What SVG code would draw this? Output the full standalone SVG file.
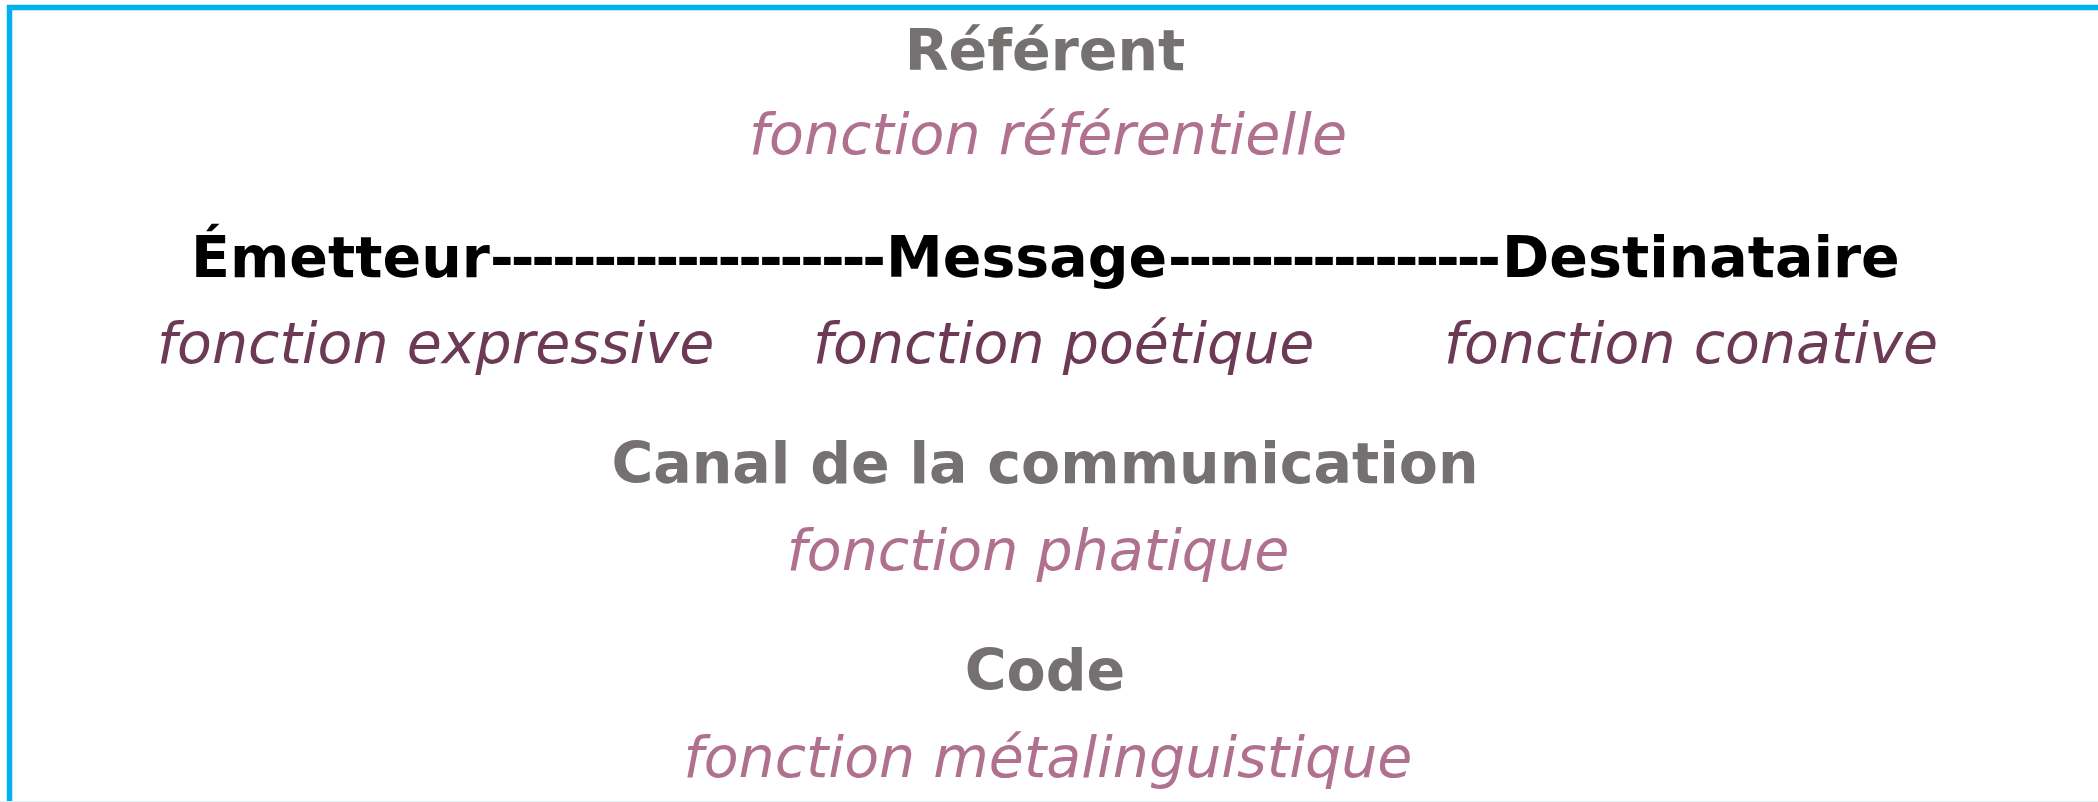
<svg xmlns="http://www.w3.org/2000/svg" width="2098" height="802" viewBox="0 0 2098 802">
<style>
.t{font-family:"DejaVu Sans",sans-serif;font-weight:bold;font-size:57px}
.i{font-family:"DejaVu Sans",sans-serif;font-style:italic;font-size:57px}
.grey{fill:#767171}
.blk{fill:#000000}
.pink{fill:#B0718F}
.dark{fill:#6D3A56}
</style>
<rect width="2098" height="802" fill="#ffffff"/>
<rect x="9.5" y="7.5" width="2200" height="800" fill="none" stroke="#00B0F0" stroke-width="5.5"/>
<line x1="0" y1="801.5" x2="2098" y2="801.5" stroke="#E2F4FB" stroke-width="1"/>
<g id="referent">
<text class="t grey" x="1045" y="70" text-anchor="middle">Référent</text>
<text class="i pink" x="1048" y="154" text-anchor="middle">fonction référentielle</text>
</g>
<g id="emetteur">
<text class="t blk" x="191" y="277">Émetteur</text>
<text class="i dark" x="157" y="363">fonction expressive</text>
</g>
<g id="message">
<text class="t blk" x="886" y="277">Message</text>
<text class="i dark" x="813" y="363">fonction poétique</text>
</g>
<g id="destinataire">
<text class="t blk" x="1502" y="277">Destinataire</text>
<text class="i dark" x="1444" y="363">fonction conative</text>
</g>
<g id="canal">
<text class="t grey" x="1045" y="483" text-anchor="middle">Canal de la communication</text>
<text class="i pink" x="1038" y="570" text-anchor="middle">fonction phatique</text>
</g>
<g id="code">
<text class="t grey" x="1045" y="690" text-anchor="middle">Code</text>
<text class="i pink" x="1048" y="777" text-anchor="middle">fonction métalinguistique</text>
</g>
<g id="connectors">
<text class="t blk" x="490" y="277" textLength="396" lengthAdjust="spacing">-------------------</text>
<text class="t blk" x="1168" y="277" textLength="333" lengthAdjust="spacing">----------------</text>
</g>
</svg>
